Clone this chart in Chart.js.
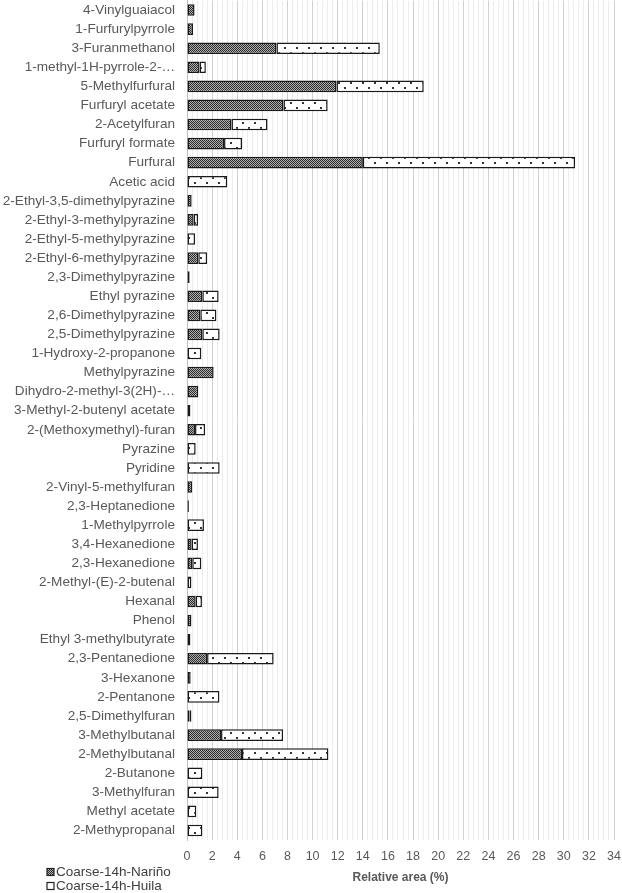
<!DOCTYPE html>
<html>
<head>
<meta charset="utf-8">
<script src="https://cdn.jsdelivr.net/npm/chart.js@4"></script>
<style>
  html, body { margin: 0; padding: 0; background: #fff; }
  #wrap { width: 622px; height: 893px; }
</style>
</head>
<body>
<div id="wrap"><canvas id="chart" width="622" height="893"></canvas></div>
<script>
// categories, top to bottom
const compounds = [
    '4-Vinylguaiacol', '1-Furfurylpyrrole', '3-Furanmethanol', '1-methyl-1H-pyrrole-2-\u2026',
    '5-Methylfurfural', 'Furfuryl acetate', '2-Acetylfuran', 'Furfuryl formate', 'Furfural',
    'Acetic acid', '2-Ethyl-3,5-dimethylpyrazine', '2-Ethyl-3-methylpyrazine',
    '2-Ethyl-5-methylpyrazine', '2-Ethyl-6-methylpyrazine', '2,3-Dimethylpyrazine',
    'Ethyl pyrazine', '2,6-Dimethylpyrazine', '2,5-Dimethylpyrazine', '1-Hydroxy-2-propanone',
    'Methylpyrazine', 'Dihydro-2-methyl-3(2H)-\u2026', '3-Methyl-2-butenyl acetate',
    '2-(Methoxymethyl)-furan', 'Pyrazine', 'Pyridine', '2-Vinyl-5-methylfuran',
    '2,3-Heptanedione', '1-Methylpyrrole', '3,4-Hexanedione', '2,3-Hexanedione',
    '2-Methyl-(E)-2-butenal', 'Hexanal', 'Phenol', 'Ethyl 3-methylbutyrate',
    '2,3-Pentanedione', '3-Hexanone', '2-Pentanone', '2,5-Dimethylfuran', '3-Methylbutanal',
    '2-Methylbutanal', '2-Butanone', '3-Methylfuran', 'Methyl acetate', '2-Methypropanal'
];

const narino = [
    0.6, 0.48, 7.12, 1.0,
    11.9, 7.68, 3.54, 2.95, 14.0,
    0, 0.37, 0.53,
    0, 0.9, 0,
    1.22, 1.06, 1.22, 0,
    2.12, 0.9, 0.27,
    0.64, 0, 0, 0.42,
    0.15, 0, 0.37, 0.42,
    0, 0.69, 0.35, 0.27,
    1.6, 0, 0, 0.2, 2.71,
    4.38, 0, 0, 0, 0
];

const huila = [
    0, 0, 8.23, 0.5,
    6.95, 3.52, 2.87, 1.43, 16.9,
    3.2, 0, 0.35,
    0.64, 0.7, 0.21,
    1.3, 1.28, 1.38, 1.14,
    0, 0, 0,
    0.8, 0.69, 2.6, 0,
    0, 1.35, 0.5, 0.72,
    0.35, 0.5, 0, 0,
    5.3, 0.29, 2.58, 0.15, 4.94,
    6.88, 1.22, 2.52, 0.74, 1.22
];

const seriesNames = ['Coarse-14h-Nari\u00f1o', 'Coarse-14h-Huila'];
const xMax = 34;
const majorStep = 2;
const minorStep = 0.4;

const FONT = '"Liberation Sans", Arial, sans-serif';
const TEXT = '#595959';

// fill patterns
function makePattern(w, h, draw) {
    const c = document.createElement('canvas');
    c.width = w; c.height = h;
    const g = c.getContext('2d');
    draw(g);
    return document.getElementById('chart').getContext('2d').createPattern(c, 'repeat');
}

const hatch = makePattern(2, 2, g => {
    g.fillStyle = '#b0b0b0';
    g.fillRect(0, 0, 2, 2);
    g.fillStyle = '#2a2a2a';
    g.fillRect(0, 0, 1, 1);
    g.fillRect(1, 1, 1, 1);
});

// sparse dots, two offset rows
const dots = makePattern(12, 10, g => {
    g.fillStyle = '#ffffff';
    g.fillRect(0, 0, 12, 10);
    g.fillStyle = '#333333';
    g.fillRect(2, 2, 2, 2);
    g.fillRect(8, 7, 2, 2);
});

const legendPlugin = {
    id: 'sideLegend',
    afterDraw(chart) {
        const ctx = chart.ctx;
        const fills = [hatch, '#ffffff'];
        ctx.save();
        ctx.font = '13.5px ' + FONT;
        ctx.textBaseline = 'middle';
        seriesNames.forEach((name, i) => {
            const y = 872 + i * 14;
            ctx.fillStyle = fills[i];
            ctx.fillRect(47, y - 3.5, 7, 7);
            ctx.strokeStyle = '#222';
            ctx.lineWidth = 1.2;
            ctx.strokeRect(47, y - 3.5, 7, 7);
            ctx.fillStyle = '#404040';
            ctx.fillText(name, 56, y + 0.5);
        });
        ctx.restore();
    }
};

new Chart(document.getElementById('chart'), {
    type: 'bar',
    data: {
        labels: compounds,
        datasets: [
            {
                label: seriesNames[0],
                data: narino,
                backgroundColor: hatch,
                borderColor: '#1a1a1a',
                borderWidth: 1.5,
                borderSkipped: false
            },
            {
                label: seriesNames[1],
                data: huila,
                backgroundColor: dots,
                borderColor: '#1a1a1a',
                borderWidth: 1.5,
                borderSkipped: false
            }
        ]
    },
    options: {
        indexAxis: 'y',
        responsive: false,
        animation: false,
        layout: { padding: { top: 0.5, right: 8, bottom: 0, left: 0 } },
        datasets: { bar: { categoryPercentage: 1, barPercentage: 0.61 } },
        plugins: {
            legend: { display: false },
            tooltip: { enabled: false }
        },
        scales: {
            x: {
                stacked: true,
                min: 0,
                max: xMax,
                afterFit: scale => {
                    scale.height = 53;
                    scale.paddingLeft = 0;
                    scale.paddingRight = 0;
                },
                ticks: {
                    stepSize: minorStep,
                    autoSkip: false,
                    maxRotation: 0,
                    padding: 9,
                    color: TEXT,
                    font: { family: FONT, size: 12.5 },
                    callback: (value, index) => index % Math.round(majorStep / minorStep) === 0 ? String(Math.round(value)) : ''
                },
                grid: {
                    drawTicks: false,
                    color: ctx => ctx.index % Math.round(majorStep / minorStep) === 0 ? '#d0d0d0' : '#ececec',
                    lineWidth: 1
                },
                border: { display: false },
                title: {
                    display: true,
                    text: 'Relative area (%)',
                    color: TEXT,
                    font: { family: FONT, size: 12, weight: 'bold' },
                    padding: { top: 0, bottom: 8 }
                }
            },
            y: {
                stacked: true,
                afterFit: scale => {
                    scale.width = 187;
                    scale.paddingTop = 0;
                    scale.paddingBottom = 0;
                },
                ticks: {
                    autoSkip: false,
                    padding: 12,
                    color: TEXT,
                    font: { family: FONT, size: 13.6 }
                },
                grid: { display: false, drawTicks: false },
                border: { display: true, color: '#bfbfbf', width: 1 }
            }
        }
    },
    plugins: [legendPlugin]
});
</script>
</body>
</html>
